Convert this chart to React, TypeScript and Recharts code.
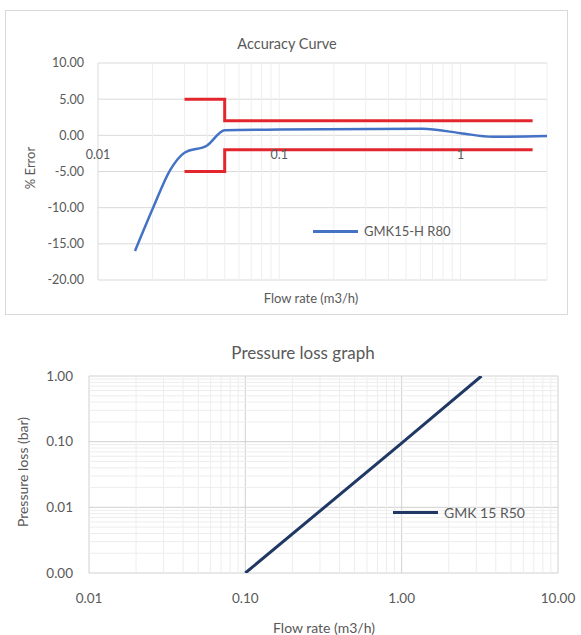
import { LineChart, Line, XAxis, YAxis, CartesianGrid, ReferenceLine, ReferenceDot, Legend } from 'recharts';

// accuracy curve
const ACC_Q = [0.016, 0.02, 0.025, 0.03, 0.04, 0.05, 0.1, 0.62, 1.0, 1.5, 3.0];
const ACC_ERR = [-16, -10.2, -4.8, -2.4, -1.4, 0.7, 0.8, 0.9, 0.3, -0.2, -0.1];

const LIMIT_Q = [0.03, 0.05, 0.05, 2.5];
const LIMIT_UP = [5, 5, 2, 2];
const LIMIT_LOW = [-5, -5, -2, -2];

const ACC_Y_TICKS = [-20, -15, -10, -5, 0, 5, 10];
const ACC_X_LABELS = [0.01, 0.1, 1];
const ACC_X_MINOR = [0.02, 0.03, 0.04, 0.05, 0.06, 0.07, 0.08, 0.09, 0.1, 0.2, 0.3, 0.4, 0.5, 0.6, 0.7, 0.8, 0.9, 1, 2, 3];

// pressure loss
const PL_Q = [0.1, 1.0, 3.24];
const PL_BAR = [0.001, 0.095, 1.0];

const PL_X_TICKS = [0.01, 0.1, 1, 10];
const PL_Y_TICKS = [0.001, 0.01, 0.1, 1];
const PL_X_MINOR = [0.02, 0.03, 0.04, 0.05, 0.06, 0.07, 0.08, 0.09, 0.2, 0.3, 0.4, 0.5, 0.6, 0.7, 0.8, 0.9, 2, 3, 4, 5, 6, 7, 8, 9];
const PL_Y_MINOR = [0.002, 0.003, 0.004, 0.005, 0.006, 0.007, 0.008, 0.009, 0.02, 0.03, 0.04, 0.05, 0.06, 0.07, 0.08, 0.09, 0.2, 0.3, 0.4, 0.5, 0.6, 0.7, 0.8, 0.9];

const TEXT = '#595959';
const BLUE = '#4472c4';
const NAVY = '#203864';
const RED = '#e3262d';

const accData = ACC_Q.map((q, i) => ({ q, err: ACC_ERR[i] }));
const upData = LIMIT_Q.map((q, i) => ({ q, err: LIMIT_UP[i] }));
const lowData = LIMIT_Q.map((q, i) => ({ q, err: LIMIT_LOW[i] }));
const plData = PL_Q.map((q, i) => ({ q, bar: PL_BAR[i] }));

function Caption({ x, y, size, children, rotate }: any) {
  return (
    <div
      style={{
        position: 'absolute',
        left: x,
        top: y,
        transform: `translate(-50%, -50%)${rotate ? ' rotate(-90deg)' : ''}`,
        whiteSpace: 'nowrap',
        fontSize: size,
        color: TEXT,
      }}
    >
      {children}
    </div>
  );
}

function legendContent(color: string, name: string, fontSize: number) {
  return () => (
    <div style={{ display: 'flex', alignItems: 'center', whiteSpace: 'nowrap' }}>
      <span style={{ width: 45, height: 3, background: color, display: 'inline-block', marginRight: 6 }} />
      <span style={{ fontSize, color: TEXT }}>{name}</span>
    </div>
  );
}

export default function App() {
  const tick = { fill: TEXT, fontSize: 12.5 };
  return (
    <div style={{ position: 'absolute', left: 0, top: 0, width: 581, height: 635, fontFamily: 'Lato', background: '#fff' }}>
      {/* accuracy curve */}
      <div style={{ position: 'absolute', left: 5, top: 10, width: 561, height: 303, border: '1px solid #d9d9d9' }}>
        <LineChart width={561} height={303} margin={{ top: 52, right: 20, bottom: 34, left: 0 }}>
          <CartesianGrid vertical={false} stroke="#d9d9d9" />
          <XAxis dataKey="q" type="number" scale="log" domain={[0.01, 3]} allowDataOverflow hide />
          <YAxis
            type="number"
            domain={[-20, 10]}
            ticks={ACC_Y_TICKS}
            tickFormatter={(v) => Number(v).toFixed(2)}
            axisLine={false}
            tickLine={false}
            tickSize={0}
            tickMargin={14}
            width={92}
            tick={tick}
          />
          {ACC_X_MINOR.map((v) => (
            <ReferenceLine key={v} x={v} stroke="#eeeeee" />
          ))}
          <ReferenceLine x={0.01} stroke="#d9d9d9" />
          {ACC_X_LABELS.map((v) => (
            <ReferenceDot
              key={'l' + v}
              x={v}
              y={0}
              r={0}
              fill="none"
              stroke="none"
              label={{ value: String(v), position: 'bottom', offset: 15, fill: TEXT, fontSize: 12.5 }}
            />
          ))}
          <Line data={upData} dataKey="err" type="linear" stroke={RED} strokeWidth={3} dot={false} legendType="none" isAnimationActive={false} />
          <Line data={lowData} dataKey="err" type="linear" stroke={RED} strokeWidth={3} dot={false} legendType="none" isAnimationActive={false} />
          <Line data={accData} dataKey="err" name="GMK15-H R80" type="monotone" stroke={BLUE} strokeWidth={2.5} dot={false} isAnimationActive={false} />
          <Legend
            layout="horizontal"
            verticalAlign="middle"
            align="center"
            content={legendContent(BLUE, 'GMK15-H R80', 13)}
            wrapperStyle={{ left: 307, top: 212, width: 'auto' }}
          />
        </LineChart>
        <Caption x={281} y={32} size={14.5}>Accuracy Curve</Caption>
        <Caption x={305} y={287} size={13}>Flow rate (m3/h)</Caption>
        <Caption x={24} y={157} size={13} rotate>% Error</Caption>
      </div>

      {/* pressure loss graph */}
      <div style={{ position: 'absolute', left: 0, top: 318, width: 581, height: 317 }}>
        <LineChart width={581} height={317} margin={{ top: 58, right: 23, bottom: 0, left: 0 }}>
          <CartesianGrid stroke="#d0d0d0" />
          {PL_X_MINOR.map((v) => (
            <ReferenceLine key={'x' + v} x={v} stroke="#ededed" />
          ))}
          {PL_Y_MINOR.map((v) => (
            <ReferenceLine key={'y' + v} y={v} stroke="#ededed" />
          ))}
          <XAxis
            dataKey="q"
            type="number"
            scale="log"
            domain={[0.01, 10]}
            ticks={PL_X_TICKS}
            tickFormatter={(v) => Number(v).toFixed(2)}
            allowDataOverflow
            axisLine={false}
            tickLine={false}
            tickSize={0}
            tickMargin={20}
            height={62}
            tick={{ fill: TEXT, fontSize: 13.5 }}
          />
          <YAxis
            type="number"
            scale="log"
            domain={[0.001, 1]}
            ticks={PL_Y_TICKS}
            tickFormatter={(v) => Number(v).toFixed(2)}
            allowDataOverflow
            axisLine={false}
            tickLine={false}
            tickSize={0}
            tickMargin={16}
            width={89}
            tick={{ fill: TEXT, fontSize: 13.5 }}
          />
          <Line data={plData} dataKey="bar" name="GMK 15 R50" type="linear" stroke={NAVY} strokeWidth={3} dot={false} isAnimationActive={false} />
          <Legend
            layout="horizontal"
            verticalAlign="middle"
            align="center"
            content={legendContent(NAVY, 'GMK 15 R50', 14)}
            wrapperStyle={{ left: 393, top: 186, width: 'auto' }}
          />
        </LineChart>
        <Caption x={303} y={34} size={17}>Pressure loss graph</Caption>
        <Caption x={324} y={309} size={14}>Flow rate (m3/h)</Caption>
        <Caption x={22} y={154} size={14} rotate>Pressure loss (bar)</Caption>
      </div>
    </div>
  );
}
